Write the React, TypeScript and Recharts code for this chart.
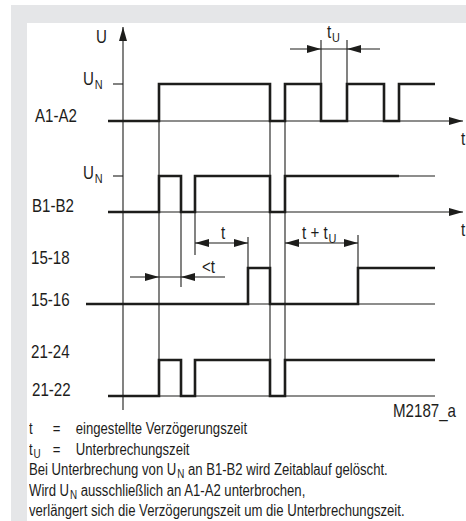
import { ComposedChart, Line, Scatter, XAxis, YAxis } from "recharts";

// time axis: 0 = the U axis; vertical: 0 = baseline of 21-22
const a1Edges = [-15, 36, 147, 162, 198, 224, 261, 276, 312];
const a1States = [0, 1, 0, 1, 0, 1, 0, 1];
const b1Edges = [-15, 36, 58, 72, 147, 162, 276];
const b1States = [0, 1, 0, 1, 0, 1];
const o1Edges = [-37, 125, 147, 235, 312];
const o1States = [0, 1, 0, 1];
const o2Edges = [-15, 36, 58, 72, 147, 162, 312];
const o2States = [0, 1, 0, 1, 0, 1];

const rowLow = [275, 184, 92, 0];
const rowHigh = [312, 220, 128, 36];

// thin helper lines: [x1, y1, x2, y2]
const thinLines = [
  [-15, 275, 340, 275],
  [-15, 184, 340, 184],
  [-37, 92, 312, 92],
  [-15, 0, 312, 0],
  [276, 220, 312, 220],
  [0, -14, 0, 369],
  [-10, 312, 0, 312],
  [-10, 220, 0, 220],
  [36, 312, 36, 0],
  [58, 220, 58, 109],
  [72, 220, 72, 141],
  [125, 128, 125, 159],
  [147, 312, 147, 0],
  [162, 312, 162, 0],
  [235, 128, 235, 161],
  [198, 312, 198, 356],
  [224, 312, 224, 356],
  [167, 347, 257, 347],
  [7, 119, 102, 119],
  [72, 153, 125, 153],
  [162, 153, 235, 153],
];

const arrowHeads = [
  { x: 0, y: 369, dir: "up" },
  { x: 340, y: 275, dir: "right" },
  { x: 340, y: 184, dir: "right" },
  { x: 198, y: 347, dir: "right" },
  { x: 224, y: 347, dir: "left" },
  { x: 36, y: 119, dir: "right" },
  { x: 58, y: 119, dir: "left" },
  { x: 72, y: 153, dir: "left" },
  { x: 125, y: 153, dir: "right" },
  { x: 162, y: 153, dir: "left" },
  { x: 235, y: 153, dir: "right" },
];

const labels = [
  { x: -27, y: 353, text: "U", sub: "" },
  { x: -40, y: 311, text: "U", sub: "N" },
  { x: -88, y: 274, text: "A1-A2", sub: "" },
  { x: -40, y: 217, text: "U", sub: "N" },
  { x: -91, y: 184, text: "B1-B2", sub: "" },
  { x: -92, y: 132, text: "15-18", sub: "" },
  { x: -92, y: 90, text: "15-16", sub: "" },
  { x: -92, y: 38, text: "21-24", sub: "" },
  { x: -91, y: 0, text: "21-22", sub: "" },
  { x: 338, y: 251, text: "t", sub: "" },
  { x: 338, y: 160, text: "t", sub: "" },
  { x: 204, y: 358, text: "t", sub: "U" },
  { x: 98, y: 157, text: "t", sub: "" },
  { x: 79, y: 123, text: "<t", sub: "" },
  { x: 179, y: 157, text: "t + t", sub: "U" },
  { x: 270, y: -21, text: "M2187_a", sub: "" },
];

const notes = [
  ["t", "", "eingestellte Verzögerungszeit"],
  ["t", "U", "Unterbrechungszeit"],
];
const noteLines = [
  "Bei Unterbrechung von U|N| an B1-B2 wird Zeitablauf gelöscht.",
  "Wird U|N| ausschließlich an A1-A2 unterbrochen,",
  "verlängert sich die Verzögerungszeit um die Unterbrechungszeit.",
];

const FONT = "'Liberation Sans', Arial, sans-serif";
const INK = "#1d1d1b";
const SQUEEZE = 0.84;
const NOTE_SQUEEZE = 0.82;

function wave(edges: number[], states: number[], row: number) {
  const pts: { x: number; y: number }[] = [];
  states.forEach((s, i) => {
    const y = s ? rowHigh[row] : rowLow[row];
    pts.push({ x: edges[i], y });
    pts.push({ x: edges[i + 1], y });
  });
  return pts;
}

const waves = [
  wave(a1Edges, a1States, 0),
  wave(b1Edges, b1States, 1),
  wave(o1Edges, o1States, 2),
  wave(o2Edges, o2States, 3),
];

const Arrow = (p: any) => {
  const { cx, cy, payload } = p;
  const L = 14;
  const W = 4;
  let pts = "";
  if (payload.dir === "up") pts = `${cx},${cy} ${cx - W},${cy + L} ${cx + W},${cy + L}`;
  else if (payload.dir === "right") pts = `${cx},${cy} ${cx - L},${cy - W} ${cx - L},${cy + W}`;
  else pts = `${cx},${cy} ${cx + L},${cy - W} ${cx + L},${cy + W}`;
  return <polygon points={pts} fill={INK} />;
};

const TextMark = (p: any) => {
  const { cx, cy, payload } = p;
  return (
    <text
      x={0}
      y={0}
      transform={`translate(${cx},${cy}) scale(${SQUEEZE},1)`}
      fontFamily={FONT}
      fontSize={18}
      fill={INK}
    >
      {payload.text}
      {payload.sub && (
        <tspan fontSize={13} dy={4} dx={1}>
          {payload.sub}
        </tspan>
      )}
    </text>
  );
};

const subStyle = { fontSize: 12, position: "relative" as const, top: 3, lineHeight: 0, marginLeft: 1 };

function NoteText({ s }: { s: string }) {
  const parts = s.split("|");
  return (
    <>
      {parts.map((part, i) =>
        i % 2 === 1 ? (
          <span key={i} style={subStyle}>
            {part}
          </span>
        ) : (
          <span key={i}>{part}</span>
        )
      )}
    </>
  );
}

export default function App() {
  return (
    <div style={{ position: "absolute", left: 0, top: 0, width: 466, height: 521, background: "#fff", overflow: "hidden" }}>
      <div style={{ position: "absolute", left: 11, top: 5, right: 0, bottom: 0, background: "#e5e6e8" }} />
      <div style={{ position: "absolute", left: 27, top: 23, right: 0, bottom: 0, background: "#fff" }} />
      <div style={{ position: "absolute", left: 0, top: 0 }}>
        <ComposedChart width={466} height={521} margin={{ top: 0, right: 0, bottom: 0, left: 0 }}>
          <XAxis type="number" dataKey="x" domain={[-123, 343]} hide allowDataOverflow />
          <YAxis type="number" dataKey="y" domain={[-125, 396]} hide allowDataOverflow />
          {thinLines.map((l, i) => (
            <Line
              key={"t" + i}
              data={[
                { x: l[0], y: l[1] },
                { x: l[2], y: l[3] },
              ]}
              dataKey="y"
              stroke={INK}
              strokeWidth={1.1}
              dot={false}
              activeDot={false}
              isAnimationActive={false}
            />
          ))}
          {waves.map((w, i) => (
            <Line
              key={"w" + i}
              data={w}
              dataKey="y"
              stroke={INK}
              strokeWidth={2.6}
              strokeLinejoin="miter"
              dot={false}
              activeDot={false}
              isAnimationActive={false}
            />
          ))}
          <Scatter data={arrowHeads} dataKey="y" shape={Arrow} isAnimationActive={false} />
          <Scatter data={labels} dataKey="y" shape={TextMark} isAnimationActive={false} />
        </ComposedChart>
      </div>
      <div
        style={{
          position: "absolute",
          left: 29,
          top: 419,
          fontFamily: FONT,
          fontSize: 16,
          lineHeight: "20.5px",
          color: INK,
          whiteSpace: "nowrap",
          transform: `scaleX(${NOTE_SQUEEZE})`,
          transformOrigin: "left top",
        }}
      >
        {notes.map((n, i) => (
          <div key={i} style={{ display: "flex" }}>
            <span style={{ width: 29 }}>
              {n[0]}
              {n[1] && <span style={subStyle}>{n[1]}</span>}
            </span>
            <span style={{ width: 28 }}>=</span>
            <span>{n[2]}</span>
          </div>
        ))}
        {noteLines.map((s, i) => (
          <div key={i}>
            <NoteText s={s} />
          </div>
        ))}
      </div>
    </div>
  );
}
